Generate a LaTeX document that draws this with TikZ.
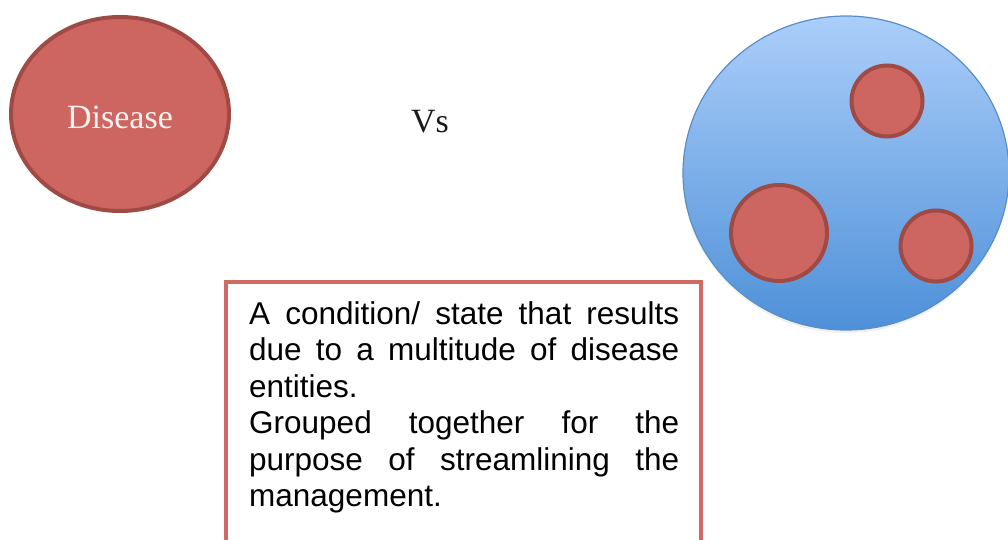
\documentclass[tikz,border=0pt]{standalone}
\usepackage{fontspec}
\setmainfont{Liberation Serif}
\newfontfamily\arialfont{Liberation Sans}
\usetikzlibrary{shapes.geometric}
\definecolor{redfill}{HTML}{CD6660}
\definecolor{redline}{HTML}{A04A45}
\definecolor{boxline}{HTML}{D06A64}
\definecolor{bluetop}{HTML}{ABCEFA}
\definecolor{bluebot}{HTML}{4E90D8}
\definecolor{blueline}{HTML}{5A8DC8}
\tikzset{
  redblob/.style={circle, draw=redline, fill=redfill, line width=4pt, inner sep=0pt},
  labeltext/.style={font=\fontsize{34}{40}\selectfont},
}
\begin{document}
\begin{tikzpicture}[x=1pt,y=-1pt]
\useasboundingbox (0,0) rectangle (1008,540);
\clip (0,0) rectangle (1008,540);
% left disease ellipse
\node[ellipse, draw=redline, fill=redfill, line width=4pt, minimum width=218pt, minimum height=194pt, inner sep=0pt] (disease) at (120,114) {};
\node[labeltext, text=white!95!red] (diseaselbl) at (120,117) {Disease};
% Vs
\node[labeltext, text=black!90] (vs) at (430,122) {Vs};
% big blue ellipse
\fill[gray!30, opacity=0.4] (846,176) ellipse [x radius=163pt, y radius=157pt];
\node[ellipse, draw=blueline, top color=bluetop, bottom color=bluebot, line width=1.2pt, minimum width=326pt, minimum height=314pt, inner sep=0pt] (group) at (846,173) {};
\node[redblob, minimum size=71pt] (c1) at (887,101) {};
\node[redblob, minimum size=96pt] (c2) at (779,233) {};
\node[redblob, minimum size=71pt] (c3) at (936,246) {};
% text box
\draw[boxline, fill=white, line width=4pt] (226,582) -- (226,282) -- (701,282) -- (701,582);
\node[anchor=north west, inner sep=0pt, text width=430pt, align=justify,
      font=\arialfont\fontsize{31.5}{36.5}\selectfont] (desc) at (249,301)
 {\hyphenpenalty=10000\tolerance=10000
  A condition/ state that results\linebreak due to a multitude of disease\linebreak entities.\par
  Grouped together for the\linebreak purpose of streamlining the\linebreak management.\par};
\end{tikzpicture}
\end{document}
